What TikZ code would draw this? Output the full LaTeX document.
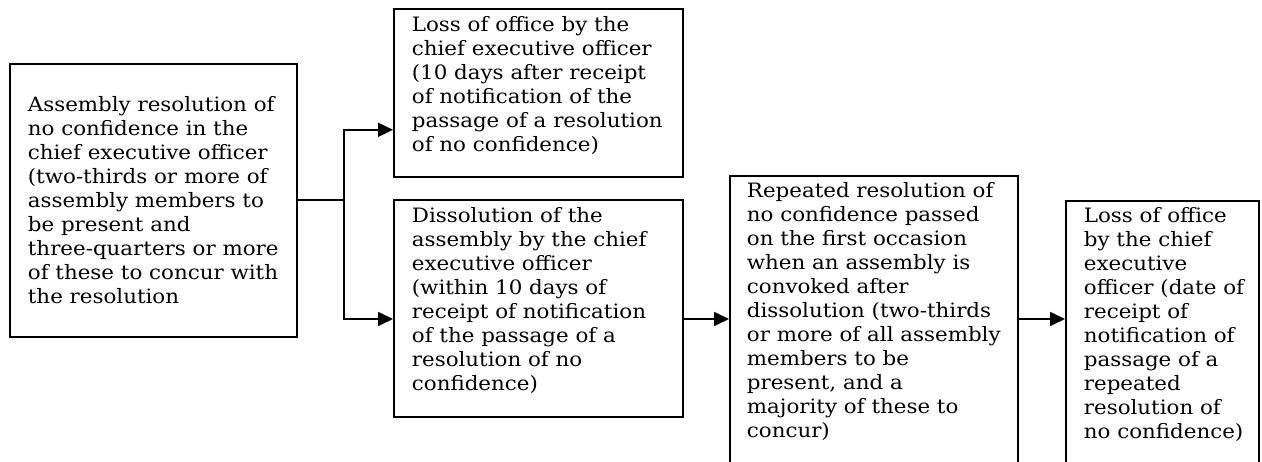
\documentclass[tikz,border=0pt]{standalone}
\usepackage{fontspec}
\setmainfont[FakeStretch=1.08]{DejaVu Serif}
\usetikzlibrary{arrows.meta,positioning}

% text block of given width and height, content aligned top (t) or centre (c)
\newcommand{\boxtext}[4][t]{\parbox[c][#3][#1]{#2}{\raggedright #4}}

\tikzset{
  card/.style={draw, line width=1.8pt, anchor=north west, inner xsep=18pt,
    inner ysep=8pt, font=\fontsize{19.8}{24}\selectfont},
  flow/.style={line width=1.8pt, -{Triangle[length=15pt,width=14pt]}}
}

\begin{document}
\begin{tikzpicture}[x=1pt, y=-1pt]
  \useasboundingbox (0,0) rectangle (1262,462);
  \clip (0,0) rectangle (1262,462);% last two boxes run off the page
  % the boxes
  \node[card, inner ysep=0pt] (resolution) at (9,63)
    {\boxtext[c]{251pt}{273pt}{Assembly resolution of\\ no confidence in the\\
     chief executive officer\\ (two-thirds or more of\\ assembly members to\\
     be present and\\ three-quarters or more\\ of these to concur with\\
     the resolution}};
  \node[card] (lossfirst) at (393,8)
    {\boxtext{253pt}{152pt}{Loss of office by the\\ chief executive officer\\
     (10 days after receipt\\ of notification of the\\
     passage of a resolution\\ of no confidence)}};
  \node[card] (dissolution) at (393,199)
    {\boxtext{253pt}{201pt}{Dissolution of the\\ assembly by the chief\\
     executive officer\\ (within 10 days of\\ receipt of notification\\
     of the passage of a\\ resolution of no\\ confidence)}};
  \node[card, inner xsep=17pt, inner ysep=7pt] (repeated) at (729,175)
    {\boxtext{254pt}{291pt}{Repeated resolution of\\ no confidence passed\\
     on the first occasion\\ when an assembly is\\ convoked after\\
     dissolution (two-thirds\\ or more of all assembly\\ members to be\\
     present, and a\\ majority of these to\\ concur)}};
  \node[card, inner xsep=14pt, inner ysep=7pt] (lossfinal) at (1065,200)
    {\boxtext{165pt}{266pt}{\leftskip=4pt Loss of office\\ by the chief\\ executive\\
     officer (date of\\ receipt of\\ notification of\\ passage of a\\
     repeated\\ resolution of\\ no confidence)}};
  % connectors
  \coordinate (split) at (344,200);
  \draw[line width=1.8pt] (resolution.east |- split) -- (split);
  \draw[flow] (split) |- ([yshift=48pt]lossfirst.south west);
  \draw[flow] (split) |- ([yshift=-120pt]dissolution.north west);
  \coordinate (onward) at ([yshift=-120pt]dissolution.north east);
  \draw[flow] (onward) -- (onward -| repeated.west);
  \draw[flow] (onward -| repeated.east) -- (onward -| lossfinal.west);
\end{tikzpicture}
\end{document}
